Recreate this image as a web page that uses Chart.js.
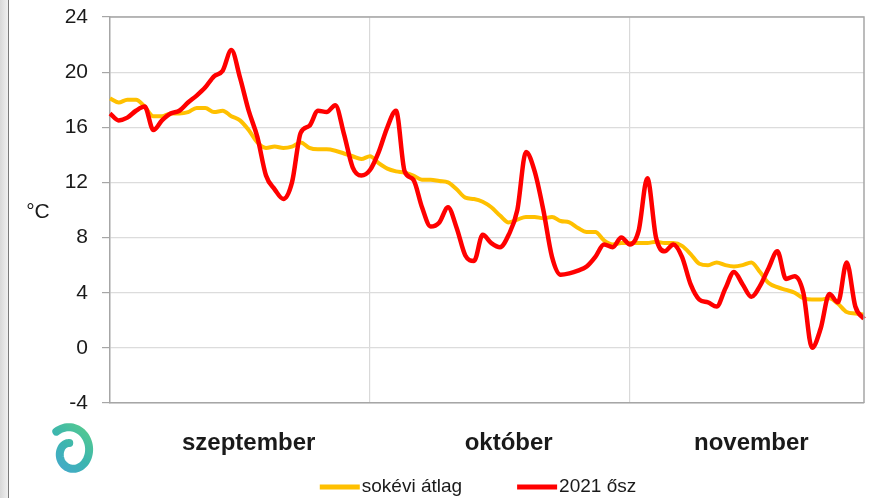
<!DOCTYPE html>
<html>
<head>
<meta charset="utf-8">
<script src="https://cdn.jsdelivr.net/npm/chart.js@4.4.1/dist/chart.umd.min.js"></script>
<style>
  html, body { margin: 0; padding: 0; background: #ffffff; }
  #wrap { position: relative; width: 876px; height: 498px; overflow: hidden; background: #ffffff; }
  #stripe { position: absolute; left: 0; top: 0; width: 8px; height: 498px;
            background: linear-gradient(to right, #d8d8d8, #f0f0f0); border-right: 1.5px solid #7a7a7a; }
  #c { position: absolute; left: 0; top: 0; }
</style>
</head>
<body>
<div id="wrap">
  <div id="stripe"></div>
  <canvas id="c" width="876" height="498"></canvas>
</div>
<script>
// ---- data ----
const startDate = [2021, 8, 1]; // 1 September
const dayCount = 88;
const avgTemp = [
  18.1, 17.8, 18.0, 18.0, 17.5, 16.8, 16.8, 17.0, 17.0, 17.1,
  17.4, 17.4, 17.1, 17.2, 16.8, 16.5, 15.8, 14.9, 14.5, 14.6,
  14.5, 14.6, 14.9, 14.5, 14.4, 14.4, 14.3, 14.1, 13.9, 13.7,
  13.9, 13.4, 13.0, 12.8, 12.7, 12.5, 12.2, 12.2, 12.1, 12.0,
  11.5, 10.9, 10.8, 10.6, 10.2, 9.6, 9.1, 9.3, 9.5, 9.5,
  9.4, 9.5, 9.2, 9.1, 8.7, 8.4, 8.4, 7.8, 7.5, 7.6,
  7.6, 7.6, 7.6, 7.7, 7.6, 7.6, 7.4, 6.8, 6.1, 6.0,
  6.2, 6.0, 5.9, 6.0, 6.2, 5.5, 4.7, 4.4, 4.2, 4.0,
  3.6, 3.5, 3.5, 3.6, 3.2, 2.6, 2.5, 2.4
];
const temp2021 = [
  17.0, 16.5, 16.7, 17.2, 17.5, 15.8, 16.5, 17.0, 17.2, 17.8,
  18.3, 18.9, 19.7, 20.1, 21.6, 19.6, 17.2, 15.3, 12.5, 11.5,
  10.8, 12.0, 15.6, 16.1, 17.2, 17.1, 17.6, 15.5, 13.1, 12.5,
  12.9, 14.2, 16.0, 17.2, 12.8, 12.2, 10.2, 8.8, 9.1, 10.2,
  8.7, 6.7, 6.3, 8.2, 7.6, 7.3, 8.2, 10.0, 14.2, 12.8,
  10.0, 6.6, 5.3, 5.4, 5.6, 5.9, 6.6, 7.5, 7.3, 8.0,
  7.5, 8.5, 12.3, 8.0, 7.0, 7.5, 6.6, 4.6, 3.5, 3.3,
  3.0, 4.3, 5.5, 4.6, 3.7, 4.5, 5.8, 7.0, 5.0, 5.2,
  4.0, 0.0, 1.4, 3.9, 3.3, 6.2, 3.0, 2.1
];
const seriesNames = ['sokévi átlag', '2021 ősz'];
const seriesColors = ['#ffc000', '#ff0000'];
const monthNames = ['szeptember', 'október', 'november'];
const monthLabelAt = [16, 46, 74];
const monthBoundaryAt = [30, 60];
const yMin = -4, yMax = 24, yStep = 4;
const yUnit = '°C';

// category labels: one per day
const dayLabels = [];
for (let i = 0; i < dayCount; i++) {
  const d = new Date(startDate[0], startDate[1], startDate[2] + i);
  dayLabels.push(String(d.getMonth() + 1).padStart(2, '0') + '.' + String(d.getDate()).padStart(2, '0'));
}

const FONT = '"Liberation Sans", Arial, sans-serif';

const extras = {
  id: 'extras',
  afterDraw(chart) {
    const ctx = chart.ctx;
    const a = chart.chartArea;
    ctx.save();
    // plot frame (top and right)
    ctx.strokeStyle = '#a6a6a6';
    ctx.lineWidth = 1.5;
    ctx.beginPath();
    ctx.moveTo(a.left, a.top);
    ctx.lineTo(a.right, a.top);
    ctx.lineTo(a.right, a.bottom);
    ctx.stroke();
    // unit label
    ctx.fillStyle = '#1a1a1a';
    ctx.font = '21px ' + FONT;
    ctx.textAlign = 'center';
    ctx.textBaseline = 'middle';
    ctx.fillText(yUnit, 38, 212);

    // legend (line swatch directly followed by its text)
    ctx.font = '19px ' + FONT;
    ctx.textAlign = 'left';
    const swW = 40, swH = 5, gap = 2, itemGap = 55, legY = 487, legCenter = 478;
    const widths = seriesNames.map(n => swW + gap + ctx.measureText(n).width);
    const total = widths.reduce((s, w) => s + w, 0) + itemGap * (widths.length - 1);
    let lx = legCenter - total / 2;
    seriesNames.forEach((n, i) => {
      ctx.fillStyle = seriesColors[i];
      ctx.fillRect(lx, legY - swH / 2, swW, swH);
      ctx.fillStyle = '#1a1a1a';
      ctx.fillText(n, lx + swW + gap, legY);
      lx += widths[i] + itemGap;
    });

    // logo spiral
    const cx = 71, cy = 452;
    const g = ctx.createLinearGradient(50, 478, 97, 426);
    g.addColorStop(0, '#4aa3d8');
    g.addColorStop(0.5, '#3bb5b0');
    g.addColorStop(1, '#5ccf86');
    ctx.strokeStyle = g;
    ctx.lineCap = 'round';
    ctx.lineWidth = 8;
    ctx.beginPath();
    const steps = 80;
    for (let s = 0; s <= steps; s++) {
      const t = s / steps;
      const ang = Math.PI * 0.72 - t * Math.PI * 2.15;
      const r = 23 - t * 15;
      const px = cx + r * Math.cos(ang) * 1.0;
      const py = cy - r * Math.sin(ang) * 1.15;
      if (s === 0) ctx.moveTo(px, py); else ctx.lineTo(px, py);
    }
    ctx.stroke();
    ctx.restore();
  }
};

new Chart(document.getElementById('c'), {
  type: 'line',
  data: {
    labels: dayLabels,
    datasets: [
      { label: seriesNames[0], data: avgTemp, borderColor: seriesColors[0], backgroundColor: seriesColors[0],
        borderWidth: 4, pointRadius: 0, cubicInterpolationMode: 'monotone', order: 1 },
      { label: seriesNames[1], data: temp2021, borderColor: seriesColors[1], backgroundColor: seriesColors[1],
        borderWidth: 4.5, pointRadius: 0, cubicInterpolationMode: 'monotone', order: 0 }
    ]
  },
  options: {
    responsive: false,
    animation: false,
    layout: { padding: { top: 17, right: 12, left: 0, bottom: 35 } },
    plugins: {
      tooltip: { enabled: false },
      legend: { display: false }
    },
    scales: {
      x: {
        type: 'category',
        grid: {
          color: (ctx) => monthBoundaryAt.includes(ctx.index) ? '#d9d9d9' : 'rgba(0,0,0,0)',
          lineWidth: 1.2,
          drawTicks: false
        },
        border: { color: '#a6a6a6', width: 1.5 },
        ticks: {
          autoSkip: false,
          maxRotation: 0,
          padding: 26,
          color: '#1a1a1a',
          font: { family: FONT, size: 24, weight: 'bold' },
          callback: (v, i) => { const k = monthLabelAt.indexOf(i); return k >= 0 ? monthNames[k] : ''; }
        },
        afterFit: (s) => { s.height = 60; s.paddingLeft = 0; s.paddingRight = 0; }
      },
      y: {
        min: yMin, max: yMax,
        grid: { color: '#dcdcdc', lineWidth: 1.2, tickColor: '#a6a6a6', tickLength: 8 },
        border: { color: '#a6a6a6', width: 1.5 },
        ticks: {
          stepSize: yStep,
          padding: 14,
          color: '#1a1a1a',
          font: { family: FONT, size: 21 }
        },
        afterFit: (s) => { s.width = 110; s.paddingTop = 0; s.paddingBottom = 0; }
      }
    }
  },
  plugins: [extras]
});
</script>
</body>
</html>
